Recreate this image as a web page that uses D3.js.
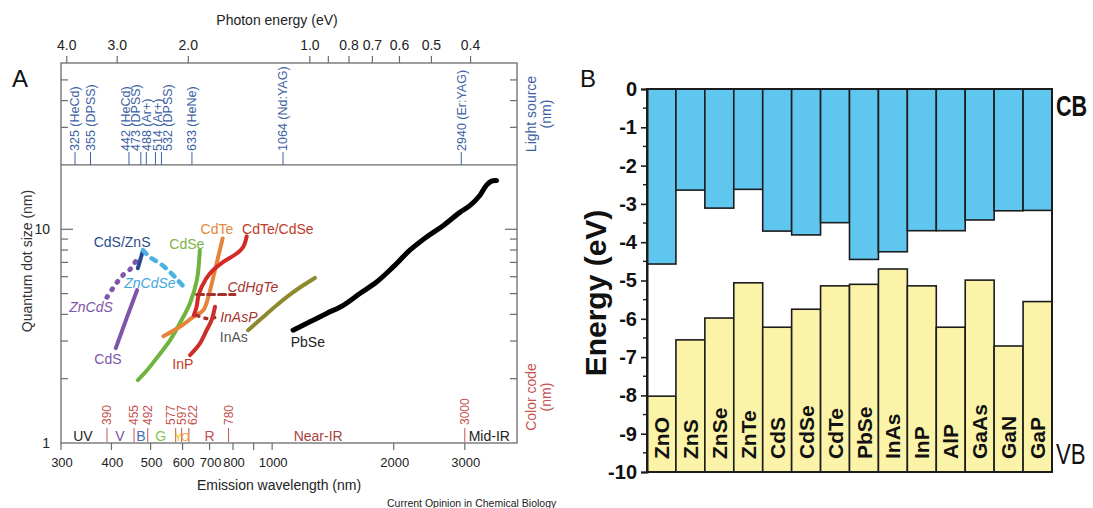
<!DOCTYPE html>
<html>
<head>
<meta charset="utf-8">
<title>Quantum dot sizes and band edges</title>
<script src="https://cdnjs.cloudflare.com/ajax/libs/d3/7.8.5/d3.min.js"></script>
<style>
	body{margin:0;background:#fff;}
	svg{display:block;font-family:'Liberation Sans',Arial,Helvetica,sans-serif;}
</style>
</head>
<body>
<div id="chart"></div>
<script>

//DATA - PANEL A (emission wavelength nm, quantum dot size nm)

var cdsCurve     = [[410,2.78],[436,3.83],[463,5.19]];
var zncdsCurve   = [[390,4.81],[408,5.47],[427,6.1],[450,6.64],[467,7.63]];
var cdsznsCurve  = [[465,6.57],[479,7.98]];
var zncdseCurve  = [[479,7.98],[498,7.40],[527,6.93],[559,6.30],[584,5.78],[608,5.30]];
var cdseCurve    = [[465,1.97],[490,2.19],[518,2.50],[559,3.03],[591,3.64],[626,4.51],[651,5.78],[662,7.98]];
var cdteCurve    = [[538,3.16],[591,3.50],[638,3.89],[675,4.18],[695,4.83],[715,5.98],[735,7.42],[754,9.05]];
var cdtecdseCurve= [[640,3.96],[650,4.34],[656,4.83],[669,5.38],[701,6.21],[757,7.04],[817,7.70],[848,8.27],[865,9.27]];
var cdhgteCurve  = [[650,4.95],[809,4.95]];
var inaspCurve   = [[652,3.95],[690,3.82],[728,3.88]];
var inpCurve     = [[626,2.58],[662,2.92],[688,3.37],[708,3.76],[722,4.34]];
var inasCurve    = [[872,3.37],[942,3.83],[1026,4.41],[1117,5.01],[1194,5.47],[1276,5.92]];
var pbseCurve    = [[1127,3.37],[1240,3.69],[1364,4.04],[1500,4.41],[1649,5.01],[1814,5.67],[1994,6.67],[2193,7.98],
                    [2412,9.20],[2651,10.4],[2916,12.0],[3087,12.9],[3268,14.4],[3396,16.1],[3493,16.8],[3594,16.9]];

var curveNames  = ["CdS","ZnCdS","CdS/ZnS","ZnCdSe","CdSe","CdTe","CdTe/CdSe","CdHgTe","InAsP","InP","InAs","PbSe"];
var curveLabelNm   = [392,356,425,498,615,730,1033,896,827,601,804,1226];
var curveLabelSize = [2.47,4.32,8.7,5.59,8.51,10,10.05,5.36,3.88,2.34,3.13,2.96];

var lightNm   = [325,355,442,473,488,514,532,633,1064,2940];
var lightName = ["HeCd","DPSS","HeCd","DPSS","Ar+","Ar+","DPSS","HeNe","Nd:YAG","Er:YAG"];

var colorCodeNm = [390,455,492,577,597,622,780,3000];
var bandNames   = ["UV","V","B","G","Y","O","R","Near-IR","Mid-IR"];
var bandLabelNm = [340,420,473,530,586,609,700,1300,3450];

var wavelengthTicks = [300,400,500,600,700,800,900,1000,2000,3000];
var energyTicks     = [4.0,3.0,2.0,1.0,0.9,0.8,0.7,0.6,0.5,0.4];
var sizeTicks       = [2,3,4,5,6,7,8,9,10,30,40,50];

//DATA - PANEL B (band edges, eV)

var materials = ["ZnO","ZnS","ZnSe","ZnTe","CdS","CdSe","CdTe","PbSe","InAs","InP","AlP","GaAs","GaN","GaP"];
var cbEdge = [-4.57,-2.64,-3.11,-2.62,-3.71,-3.81,-3.49,-4.45,-4.25,-3.70,-3.70,-3.42,-3.18,-3.17];
var vbEdge = [-8.02,-6.55,-5.98,-5.06,-6.22,-5.75,-5.14,-5.10,-4.70,-5.14,-6.22,-4.99,-6.71,-5.55];
var energyAxisTicks = d3.range(-10, 1);

//SETUP

var width = 1093, height = 508;
var svg = d3.select("#chart").append("svg")
	.attr("width", width)
	.attr("height", height);
svg.append("rect").attr("width", width).attr("height", height).attr("fill", "#fff");

var frameColor = "#6b6b6b";
var x = d3.scaleLog().domain([300, 4040]).range([61, 517]);
var y = d3.scaleLog().domain([1, 60]).range([443, 63]);

var A = svg.append("g");

// spread labels that would overlap, keep clusters centred on their mean
function spread(xs, gap) {
	var groups = xs.map(function(v){ return {items:[v], mean:v}; });
	var changed = true;
	while (changed) {
		changed = false;
		for (var i = 0; i < groups.length - 1; i++) {
			var a = groups[i], b = groups[i+1];
			var aEnd = a.mean + (a.items.length - 1) * gap / 2;
			var bStart = b.mean - (b.items.length - 1) * gap / 2;
			if (bStart - aEnd < gap) {
				var items = a.items.concat(b.items);
				groups.splice(i, 2, {items:items, mean:d3.mean(items)});
				changed = true;
				break;
			}
		}
	}
	var out = [];
	groups.forEach(function(g){
		g.items.forEach(function(v, k){ out.push(g.mean + (k - (g.items.length - 1) / 2) * gap); });
	});
	return out;
}

//PANEL A FRAME AND AXES

A.append("rect")
	.attr("x", x.range()[0]).attr("y", y.range()[1])
	.attr("width", x.range()[1] - x.range()[0])
	.attr("height", y.range()[0] - y.range()[1])
	.attr("fill", "none").attr("stroke", frameColor).attr("stroke-width", 1.3);
A.append("line")
	.attr("x1", x.range()[0]).attr("x2", x.range()[1])
	.attr("y1", y(20)).attr("y2", y(20))
	.attr("stroke", frameColor).attr("stroke-width", 1.3);

// size ticks, inward on both sides
[x.range()[0], x.range()[1]].forEach(function(edge, side){
	A.selectAll(null).data(sizeTicks).enter().append("line")
		.attr("x1", edge)
		.attr("x2", function(d){ var len = d === 10 ? 12 : 7; return side === 0 ? edge + len : edge - len; })
		.attr("y1", function(d){ return y(d); })
		.attr("y2", function(d){ return y(d); })
		.attr("stroke", frameColor).attr("stroke-width", 1.2);
});
A.selectAll(null).data([1, 10]).enter().append("text")
	.attr("x", 50).attr("y", function(d){ return y(d); })
	.attr("dy", "0.35em").attr("text-anchor", "end")
	.attr("font-size", 14).attr("fill", "#222")
	.text(function(d){ return d; });

A.append("text")
	.attr("transform", "translate(27,261) rotate(-90)")
	.attr("dy", "0.35em").attr("text-anchor", "middle")
	.attr("font-size", 14).attr("fill", "#333")
	.text("Quantum dot size (nm)");

// wavelength axis (bottom)
A.selectAll(null).data(wavelengthTicks).enter().append("line")
	.attr("x1", function(d){ return x(d); }).attr("x2", function(d){ return x(d); })
	.attr("y1", y(1)).attr("y2", y(1) + 7)
	.attr("stroke", frameColor).attr("stroke-width", 1.2);
A.selectAll(null).data(wavelengthTicks.filter(function(d){ return d !== 900; })).enter().append("text")
	.attr("x", function(d){ return x(d) + 1; }).attr("y", 467)
	.attr("text-anchor", "middle").attr("font-size", 13).attr("fill", "#222")
	.text(function(d){ return d; });
A.append("text")
	.attr("x", 279).attr("y", 490).attr("text-anchor", "middle")
	.attr("font-size", 14).attr("fill", "#222")
	.text("Emission wavelength (nm)");

// photon energy axis (top)
A.selectAll(null).data(energyTicks).enter().append("line")
	.attr("x1", function(d){ return x(1240 / d); }).attr("x2", function(d){ return x(1240 / d); })
	.attr("y1", y(60) - 7).attr("y2", y(60))
	.attr("stroke", frameColor).attr("stroke-width", 1.2);
A.selectAll(null).data(energyTicks.filter(function(d){ return d !== 0.9; })).enter().append("text")
	.attr("x", function(d){ return x(1240 / d); }).attr("y", 50)
	.attr("text-anchor", "middle").attr("font-size", 14).attr("fill", "#222")
	.text(function(d){ return d.toFixed(1); });
A.append("text")
	.attr("x", 277).attr("y", 25).attr("text-anchor", "middle")
	.attr("font-size", 14).attr("fill", "#222")
	.text("Photon energy (eV)");

//LIGHT SOURCES

var lightColor = "#3d62a3";
var lightX = spread(lightNm.map(function(d){ return x(d); }), 10.7);
A.selectAll(null).data(lightNm).enter().append("line")
	.attr("x1", function(d){ return x(d); }).attr("x2", function(d){ return x(d); })
	.attr("y1", y(20)).attr("y2", y(20) - 13)
	.attr("stroke", lightColor).attr("stroke-width", 1);
A.selectAll(null).data(lightNm).enter().append("text")
	.attr("transform", function(d, i){ return "translate(" + lightX[i] + "," + (y(20) - 14) + ") rotate(-90)"; })
	.attr("dy", "0.35em").attr("font-size", 12.5).attr("fill", lightColor)
	.text(function(d, i){ return d + " (" + lightName[i] + ")"; });
["Light source", "(nm)"].forEach(function(t, i){
	A.append("text")
		.attr("transform", "translate(" + (531 + i * 15) + ",114) rotate(-90)")
		.attr("dy", "0.35em").attr("text-anchor", "middle")
		.attr("font-size", 14).attr("fill", lightColor).text(t);
});

//COLOR CODE

var codeColor = "#c4524d";
var codeX = spread(colorCodeNm.map(function(d){ return x(d); }), 11);
A.selectAll(null).data(colorCodeNm).enter().append("line")
	.attr("x1", function(d){ return x(d); }).attr("x2", function(d){ return x(d); })
	.attr("y1", y(1) - 1).attr("y2", y(1) - 15)
	.attr("stroke", codeColor).attr("stroke-width", 1);
A.selectAll(null).data(colorCodeNm).enter().append("text")
	.attr("transform", function(d, i){ return "translate(" + codeX[i] + ",425) rotate(-90)"; })
	.attr("dy", "0.35em").attr("font-size", 12).attr("fill", codeColor)
	.text(function(d){ return d; });
var bandColors = ["#222","#7a4fa3","#3f6fb6","#8cc152","#f2c200","#f0982d","#c4524d","#a8433d","#222"];
A.selectAll(null).data(bandNames).enter().append("text")
	.attr("x", function(d, i){ return x(bandLabelNm[i]); }).attr("y", 441)
	.attr("text-anchor", "middle")
	.attr("font-size", function(d){ return d === "Y" || d === "O" ? 11 : 14; })
	.attr("fill", function(d, i){ return bandColors[i]; })
	.text(function(d){ return d; });
["Color code", "(nm)"].forEach(function(t, i){
	A.append("text")
		.attr("transform", "translate(" + (531 + i * 15) + ",397) rotate(-90)")
		.attr("dy", "0.35em").attr("text-anchor", "middle")
		.attr("font-size", 14).attr("fill", codeColor).text(t);
});

//QUANTUM DOT CURVES

var line = d3.line()
	.x(function(d){ return x(d[0]); })
	.y(function(d){ return y(d[1]); })
	.curve(d3.curveCatmullRom);

var curves = [cdsCurve, zncdsCurve, cdsznsCurve, zncdseCurve, cdseCurve, cdteCurve,
	cdtecdseCurve, cdhgteCurve, inaspCurve, inpCurve, inasCurve, pbseCurve];
var curveColor = ["#7e55a8","#7e55a8","#27498d","#4cb2e2","#6fb43f","#e5843a",
	"#d42a25","#a8302b","#a8302b","#c9302b","#8b8a2c","#000"];
var curveDash = [null,"1,8",null,"5,7",null,null,null,"7,4","2,6",null,null,null];
var curveWidth = [4,5,4,4.5,4,4,4,3,3.5,4,4,5];

A.selectAll(".qd").data(curves).enter().append("path")
	.attr("class", "qd")
	.attr("d", line)
	.attr("fill", "none")
	.attr("stroke", function(d, i){ return curveColor[i]; })
	.attr("stroke-width", function(d, i){ return curveWidth[i]; })
	.attr("stroke-dasharray", function(d, i){ return curveDash[i]; })
	.attr("stroke-linecap", "round")
	.attr("stroke-linejoin", "round");

var labelColor = ["#7e55a8","#7e55a8","#2b4c8c","#3fa9dc","#7cb342","#e08a3c",
	"#c0392b","#a5332e","#a5332e","#c0392b","#555","#222"];
var italicLabels = ["ZnCdS","ZnCdSe","CdHgTe","InAsP"];
A.selectAll(".qdlabel").data(curveNames).enter().append("text")
	.attr("class", "qdlabel")
	.attr("x", function(d, i){ return x(curveLabelNm[i]); })
	.attr("y", function(d, i){ return y(curveLabelSize[i]); })
	.attr("dy", "0.35em").attr("text-anchor", "middle")
	.attr("font-size", 14)
	.attr("font-style", function(d){ return italicLabels.indexOf(d) >= 0 ? "italic" : null; })
	.attr("fill", function(d, i){ return labelColor[i]; })
	.text(function(d){ return d; });

svg.append("text").attr("x", 12).attr("y", 87).attr("font-size", 24).attr("fill", "#111").text("A");
svg.append("text").attr("x", 387).attr("y", 507).attr("font-size", 10.5).attr("fill", "#222")
	.text("Current Opinion in Chemical Biology");

//PANEL B - BAND EDGES

var B = svg.append("g");
var xb = d3.scaleBand().domain(materials).range([647, 1052]);
var yb = d3.scaleLinear().domain([-10, 0]).range([472, 89]);

B.selectAll(".cb").data(materials).enter().append("rect")
	.attr("class", "cb")
	.attr("x", function(d){ return xb(d); })
	.attr("y", yb(0))
	.attr("width", xb.bandwidth())
	.attr("height", function(d, i){ return yb(cbEdge[i]) - yb(0); })
	.attr("fill", "#5ec6ef").attr("stroke", "#1c1c1c").attr("stroke-width", 1.6);

B.selectAll(".vb").data(materials).enter().append("rect")
	.attr("class", "vb")
	.attr("x", function(d){ return xb(d); })
	.attr("y", function(d, i){ return yb(vbEdge[i]); })
	.attr("width", xb.bandwidth())
	.attr("height", function(d, i){ return yb(-10) - yb(vbEdge[i]); })
	.attr("fill", "#fbf3a7").attr("stroke", "#1c1c1c").attr("stroke-width", 1.6);

B.append("rect")
	.attr("x", 647).attr("y", yb(0))
	.attr("width", 1052 - 647).attr("height", yb(-10) - yb(0))
	.attr("fill", "none").attr("stroke", "#1c1c1c").attr("stroke-width", 2);

B.selectAll(".mat").data(materials).enter().append("text")
	.attr("class", "mat")
	.attr("transform", function(d){ return "translate(" + (xb(d) + xb.bandwidth() / 2) + ",459) rotate(-90)"; })
	.attr("dy", "0.36em")
	.attr("font-size", 21).attr("font-weight", "bold").attr("fill", "#111")
	.text(function(d){ return d; });

var axisB = d3.axisLeft(yb)
	.tickValues(energyAxisTicks)
	.tickSize(6)
	.tickPadding(4)
	.tickFormat(function(d){ return String(d); });
var gAxis = B.append("g").attr("transform", "translate(647,0)").call(axisB);
gAxis.select(".domain").attr("stroke", "#1c1c1c").attr("stroke-width", 2);
gAxis.selectAll(".tick line").attr("stroke", "#1c1c1c").attr("stroke-width", 1.6);
gAxis.selectAll(".tick text")
	.attr("font-size", 20).attr("font-weight", "bold").attr("fill", "#111")
	.attr("font-family", "'Liberation Sans',Arial,sans-serif");
B.selectAll(".minor").data(d3.range(-9.5, 0, 1)).enter().append("line")
	.attr("x1", 643).attr("x2", 647)
	.attr("y1", function(d){ return yb(d); }).attr("y2", function(d){ return yb(d); })
	.attr("stroke", "#1c1c1c").attr("stroke-width", 1.4);

B.append("text")
	.attr("transform", "translate(595,293) rotate(-90)")
	.attr("dy", "0.35em").attr("text-anchor", "middle")
	.attr("font-size", 30).attr("font-weight", "bold").attr("fill", "#111")
	.text("Energy (eV)");
// CB / VB are drawn narrow, as in the source figure
B.append("text")
	.attr("transform", "translate(1056,116) scale(0.72,1)")
	.attr("font-size", 30).attr("font-weight", "bold").attr("fill", "#111")
	.text("CB");
B.append("text")
	.attr("transform", "translate(1056,464) scale(0.74,1)")
	.attr("font-size", 30).attr("fill", "#111")
	.text("VB");
svg.append("text").attr("x", 580).attr("y", 87).attr("font-size", 24).attr("fill", "#111").text("B");

</script>
</body>
</html>
